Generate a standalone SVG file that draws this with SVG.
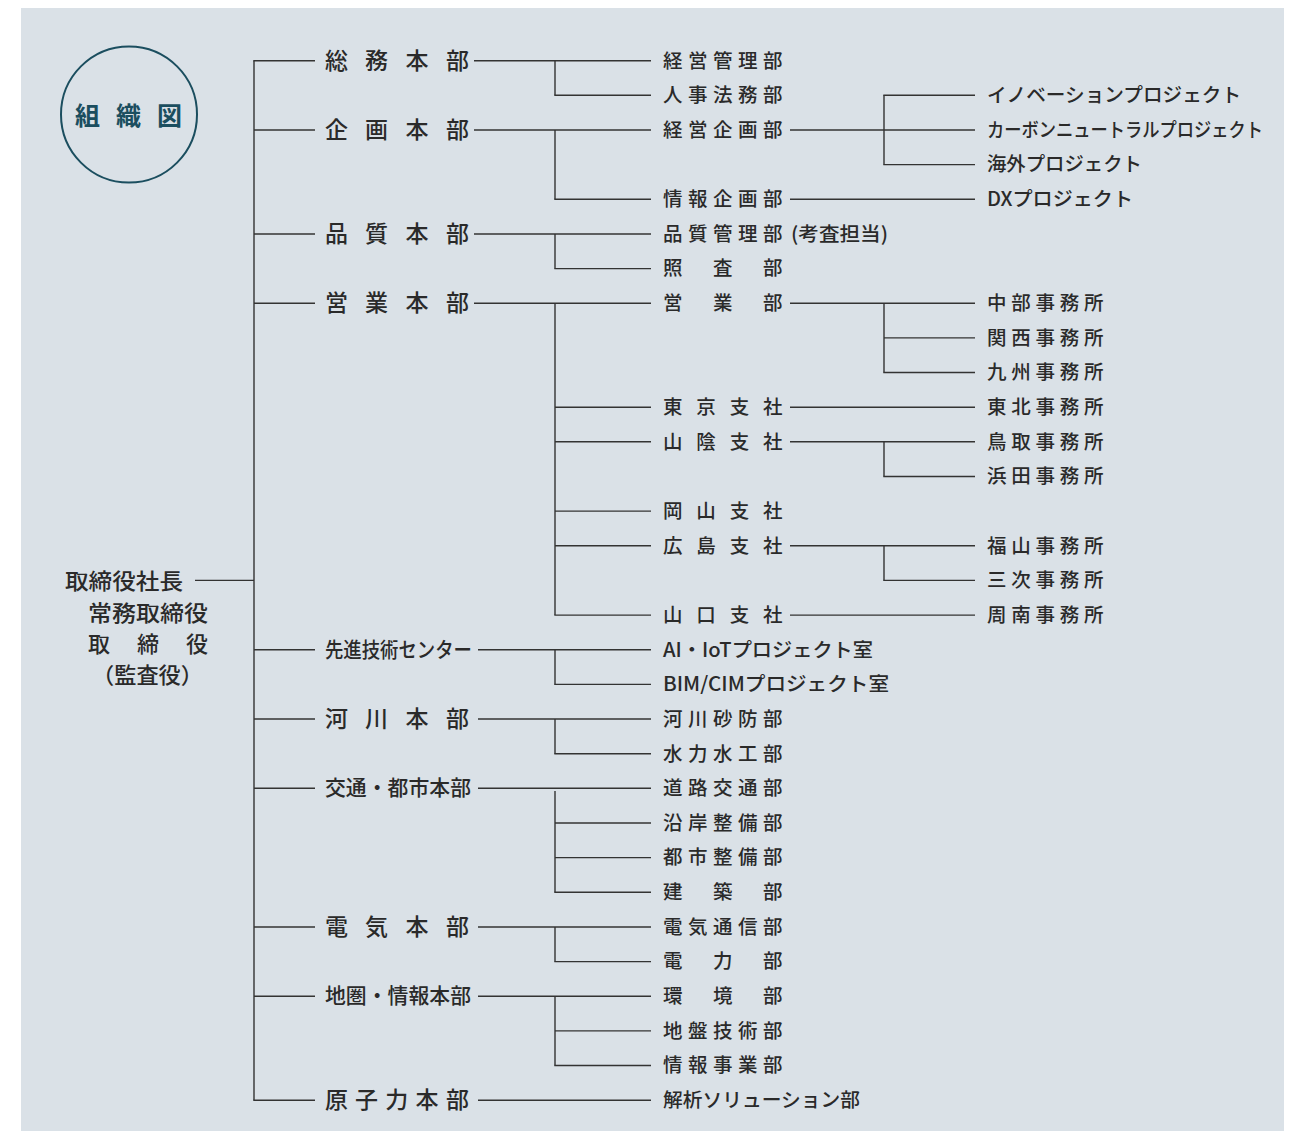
<svg xmlns="http://www.w3.org/2000/svg" width="1297" height="1131" viewBox="0 0 1297 1131">
<style>
text{font-family:"Noto Sans CJK JP","Noto Sans",sans-serif;fill:#2a2a2a;dominant-baseline:central;font-weight:500}
.hq{font-size:23px}
.hqc{font-size:21px}
.d{font-size:19.5px}
.r{font-size:19.5px}
.top{font-size:22px}
.ttl{font-size:25px;fill:#1b4e5f;font-weight:700}
#connectors line{stroke:#333;stroke-width:1.4;fill:none}
</style>
<rect x="21" y="8" width="1263" height="1123" fill="#dae1e7"/>
<g id="title">
<circle cx="129" cy="114.5" r="68" fill="none" stroke="#1b4e5f" stroke-width="2"/>
<text class="ttl" x="75 116 157" y="114">組織図</text>
</g>
<g id="connectors">
<line x1="254" y1="60.7" x2="254" y2="1100.2"/>
<line x1="195" y1="580.4" x2="254" y2="580.4"/>
<line x1="253.3" y1="60.7" x2="315" y2="60.7"/>
<line x1="254" y1="130" x2="315" y2="130"/>
<line x1="254" y1="234" x2="315" y2="234"/>
<line x1="254" y1="303.2" x2="315" y2="303.2"/>
<line x1="254" y1="649.7" x2="315" y2="649.7"/>
<line x1="254" y1="719" x2="315" y2="719"/>
<line x1="254" y1="788.3" x2="315" y2="788.3"/>
<line x1="254" y1="927" x2="315" y2="927"/>
<line x1="254" y1="996.2" x2="315" y2="996.2"/>
<line x1="253.3" y1="1100.2" x2="315" y2="1100.2"/>
<line x1="474" y1="60.7" x2="651" y2="60.7"/>
<line x1="555" y1="60.7" x2="555" y2="95.3"/>
<line x1="554.3" y1="95.3" x2="651" y2="95.3"/>
<line x1="474" y1="130" x2="651" y2="130"/>
<line x1="555" y1="130" x2="555" y2="199.3"/>
<line x1="554.3" y1="199.3" x2="651" y2="199.3"/>
<line x1="474" y1="234" x2="651" y2="234"/>
<line x1="555" y1="234" x2="555" y2="268.6"/>
<line x1="554.3" y1="268.6" x2="651" y2="268.6"/>
<line x1="474" y1="303.2" x2="651" y2="303.2"/>
<line x1="555" y1="303.2" x2="555" y2="615.1"/>
<line x1="555" y1="407.2" x2="651" y2="407.2"/>
<line x1="555" y1="441.8" x2="651" y2="441.8"/>
<line x1="555" y1="511.1" x2="651" y2="511.1"/>
<line x1="555" y1="545.8" x2="651" y2="545.8"/>
<line x1="554.3" y1="615.1" x2="651" y2="615.1"/>
<line x1="478" y1="649.7" x2="651" y2="649.7"/>
<line x1="555" y1="649.7" x2="555" y2="684.4"/>
<line x1="554.3" y1="684.4" x2="651" y2="684.4"/>
<line x1="478" y1="719" x2="651" y2="719"/>
<line x1="555" y1="719" x2="555" y2="753.7"/>
<line x1="554.3" y1="753.7" x2="651" y2="753.7"/>
<line x1="478" y1="788.3" x2="651" y2="788.3"/>
<line x1="555" y1="791" x2="555" y2="892.3"/>
<line x1="555" y1="823" x2="651" y2="823"/>
<line x1="555" y1="857.6" x2="651" y2="857.6"/>
<line x1="554.3" y1="892.3" x2="651" y2="892.3"/>
<line x1="478" y1="927" x2="651" y2="927"/>
<line x1="555" y1="927" x2="555" y2="961.6"/>
<line x1="554.3" y1="961.6" x2="651" y2="961.6"/>
<line x1="478" y1="996.2" x2="651" y2="996.2"/>
<line x1="555" y1="996.2" x2="555" y2="1065.5"/>
<line x1="555" y1="1030.9" x2="651" y2="1030.9"/>
<line x1="554.3" y1="1065.5" x2="651" y2="1065.5"/>
<line x1="478" y1="1100.2" x2="651" y2="1100.2"/>
<line x1="790" y1="130" x2="975" y2="130"/>
<line x1="884" y1="95.3" x2="884" y2="164.6"/>
<line x1="883.3" y1="95.3" x2="975" y2="95.3"/>
<line x1="883.3" y1="164.6" x2="975" y2="164.6"/>
<line x1="790" y1="199.3" x2="975" y2="199.3"/>
<line x1="790" y1="303.2" x2="975" y2="303.2"/>
<line x1="884" y1="303.2" x2="884" y2="372.5"/>
<line x1="884" y1="337.9" x2="975" y2="337.9"/>
<line x1="883.3" y1="372.5" x2="975" y2="372.5"/>
<line x1="790" y1="407.2" x2="975" y2="407.2"/>
<line x1="790" y1="441.8" x2="975" y2="441.8"/>
<line x1="884" y1="441.8" x2="884" y2="476.5"/>
<line x1="883.3" y1="476.5" x2="975" y2="476.5"/>
<line x1="790" y1="545.8" x2="975" y2="545.8"/>
<line x1="884" y1="545.8" x2="884" y2="580.4"/>
<line x1="883.3" y1="580.4" x2="975" y2="580.4"/>
<line x1="790" y1="615.1" x2="975" y2="615.1"/>
</g>
<g id="executives" transform="translate(0,-1.5)">
<text class="top" x="65" y="580.4" textLength="118" lengthAdjust="spacingAndGlyphs">取締役社長</text>
<text class="top" x="88" y="612" textLength="120" lengthAdjust="spacingAndGlyphs">常務取締役</text>
<text class="top" x="88 137 186" y="643">取締役</text>
<text class="top" x="92" y="674" textLength="111" lengthAdjust="spacingAndGlyphs">（監査役）</text>
</g>
<g id="hq" transform="translate(0,-1.8)">
<text class="hq" x="325 365 405.5 446" y="60.7">総務本部</text>
<text class="hq" x="325 365 405.5 446" y="130">企画本部</text>
<text class="hq" x="325 365 405.5 446" y="234">品質本部</text>
<text class="hq" x="325 365 405.5 446" y="303.2">営業本部</text>
<text class="hqc" x="325" y="649.7" textLength="147" lengthAdjust="spacingAndGlyphs">先進技術センター</text>
<text class="hq" x="325 365 405.5 446" y="719">河川本部</text>
<text class="hqc" x="325" y="788.3" textLength="146" lengthAdjust="spacingAndGlyphs">交通・都市本部</text>
<text class="hq" x="325 365 405.5 446" y="927">電気本部</text>
<text class="hqc" x="325" y="996.2" textLength="146" lengthAdjust="spacingAndGlyphs">地圏・情報本部</text>
<text class="hq" x="325 355 385.3 415.6 446" y="1100.2">原子力本部</text>
</g>
<g id="departments" transform="translate(0,-1.6)">
<text class="d" x="663 688 713 738 763" y="60.7">経営管理部</text>
<text class="d" x="663 688 713 738 763" y="95.3">人事法務部</text>
<text class="d" x="663 688 713 738 763" y="130">経営企画部</text>
<text class="d" x="663 688 713 738 763" y="199.3">情報企画部</text>
<text class="d" x="663 688 713 738 763" y="234">品質管理部</text>
<text class="d" x="791" y="234" textLength="97" lengthAdjust="spacingAndGlyphs">(考査担当)</text>
<text class="d" x="663 713 763" y="268.6">照査部</text>
<text class="d" x="663 713 763" y="303.2">営業部</text>
<text class="d" x="663 696.3 729.7 763" y="407.2">東京支社</text>
<text class="d" x="663 696.3 729.7 763" y="441.8">山陰支社</text>
<text class="d" x="663 696.3 729.7 763" y="511.1">岡山支社</text>
<text class="d" x="663 696.3 729.7 763" y="545.8">広島支社</text>
<text class="d" x="663 696.3 729.7 763" y="615.1">山口支社</text>
<text class="d" x="663" y="649.7" textLength="210" lengthAdjust="spacingAndGlyphs">AI・IoTプロジェクト室</text>
<text class="d" x="663" y="684.4" textLength="226" lengthAdjust="spacingAndGlyphs">BIM/CIMプロジェクト室</text>
<text class="d" x="663 688 713 738 763" y="719">河川砂防部</text>
<text class="d" x="663 688 713 738 763" y="753.7">水力水工部</text>
<text class="d" x="663 688 713 738 763" y="788.3">道路交通部</text>
<text class="d" x="663 688 713 738 763" y="823">沿岸整備部</text>
<text class="d" x="663 688 713 738 763" y="857.6">都市整備部</text>
<text class="d" x="663 713 763" y="892.3">建築部</text>
<text class="d" x="663 688 713 738 763" y="927">電気通信部</text>
<text class="d" x="663 713 763" y="961.6">電力部</text>
<text class="d" x="663 713 763" y="996.2">環境部</text>
<text class="d" x="663 688 713 738 763" y="1030.9">地盤技術部</text>
<text class="d" x="663 688 713 738 763" y="1065.5">情報事業部</text>
<text class="d" x="663" y="1100.2" textLength="197" lengthAdjust="spacingAndGlyphs">解析ソリューション部</text>
</g>
<g id="units" transform="translate(0,-1.6)">
<text class="r" x="987" y="95.3" textLength="254" lengthAdjust="spacingAndGlyphs">イノベーションプロジェクト</text>
<text class="r" x="987" y="130" textLength="276" lengthAdjust="spacingAndGlyphs">カーボンニュートラルプロジェクト</text>
<text class="r" x="987" y="164.6" textLength="155" lengthAdjust="spacingAndGlyphs">海外プロジェクト</text>
<text class="r" x="987" y="199.3" textLength="146" lengthAdjust="spacingAndGlyphs">DXプロジェクト</text>
<text class="r" x="987 1011.2 1035.5 1059.7 1084" y="303.2">中部事務所</text>
<text class="r" x="987 1011.2 1035.5 1059.7 1084" y="337.9">関西事務所</text>
<text class="r" x="987 1011.2 1035.5 1059.7 1084" y="372.5">九州事務所</text>
<text class="r" x="987 1011.2 1035.5 1059.7 1084" y="407.2">東北事務所</text>
<text class="r" x="987 1011.2 1035.5 1059.7 1084" y="441.8">鳥取事務所</text>
<text class="r" x="987 1011.2 1035.5 1059.7 1084" y="476.5">浜田事務所</text>
<text class="r" x="987 1011.2 1035.5 1059.7 1084" y="545.8">福山事務所</text>
<text class="r" x="987 1011.2 1035.5 1059.7 1084" y="580.4">三次事務所</text>
<text class="r" x="987 1011.2 1035.5 1059.7 1084" y="615.1">周南事務所</text>
</g>
</svg>
